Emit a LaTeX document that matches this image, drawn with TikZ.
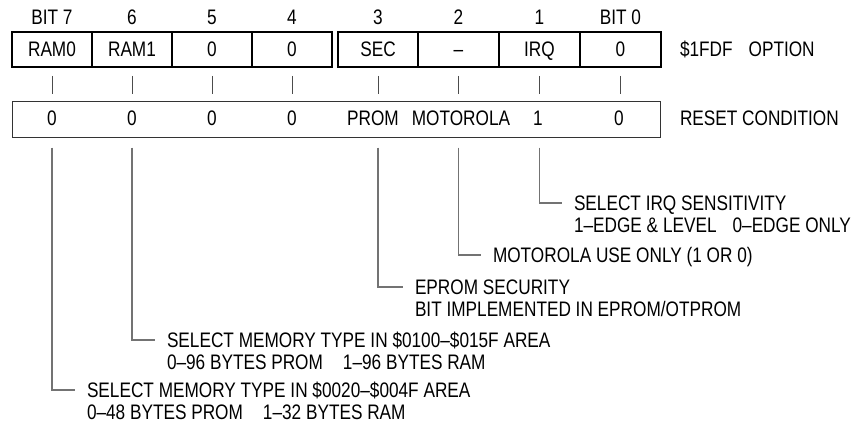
\documentclass[tikz,border=0pt]{standalone}
\usepackage{fontspec}
\setmainfont[FakeStretch=0.82]{Liberation Sans}
\usepackage{tikz}
\usetikzlibrary{positioning}

\begin{document}
\begin{tikzpicture}[
        x=1pt,
        y=-1pt,
        font=\fontsize{21pt}{24pt}\selectfont,
        cell/.style={draw, line width=2pt, minimum height=35pt, inner sep=0pt, text height=15pt, text depth=0pt},
        bitlabel/.style={inner sep=0pt, text height=15pt, text depth=0pt},
        resetbox/.style={draw=black!80, line width=1pt, inner sep=0pt},
        val/.style={inner sep=0pt, text height=15pt, text depth=0pt},
        tick/.style={draw=black!70, line width=0.9pt},
        lead/.style={draw=black!55, line width=1.2pt, shorten >=12pt},
        note/.style={anchor=west, inner sep=0pt, outer sep=0pt, text height=15pt, text depth=0pt}
    ]
        \useasboundingbox (0,0) rectangle (859,425);

        % Option register: bit numbers, cells and tick marks.
        \foreach \b/\x/\w/\t/\h in {7/52/80/RAM0/BIT 7, 6/132/80/RAM1/6, 5/212/80/0/5, 4/292/80/0/4,
                                   3/378/80/SEC/3, 2/458.5/81/–/2, 1/539.5/81/IRQ/1, 0/620.5/81/0/BIT 0} {
            \node[cell, minimum width=\w pt] (b\b) at (\x,49.5) {\t};
            \node[bitlabel] (h\b) at (\x,17.5) {\h};
            \draw[tick] ([yshift=-8pt]b\b.south) -- ([yshift=-26pt]b\b.south);
        }
        \node[note] (optlabel) at (680,49.5) {\$1FDF\hspace{16pt}OPTION};

        % Reset condition row.
        \node[resetbox, minimum width=648pt, minimum height=36pt] (reset) at (336,120) {};
        \foreach \b/\x/\t in {7/52/0, 6/132/0, 5/212/0, 4/292/0, 3/373/PROM, 2/461/MOTOROLA, 1/538/1, 0/619/0} {
            \node[val] (r\b) at (\x,118.5) {\t};
        }
        \node[note] (resetlabel) at (680,118.5) {RESET CONDITION};

        % Bit descriptions.
        \node[note] (irqa) at (574,203) {SELECT IRQ SENSITIVITY};
        \node[note] (irqb) at ([yshift=-22pt]irqa.west) {1–EDGE \& LEVEL\hspace{16pt}0–EDGE ONLY};
        \node[note] (mot) at (493,255) {MOTOROLA USE ONLY (1 OR 0)};
        \node[note] (seca) at (415,287) {EPROM SECURITY};
        \node[note] (secb) at ([yshift=-22pt]seca.west) {BIT IMPLEMENTED IN EPROM/OTPROM};
        \node[note] (ramia) at (167,340) {SELECT MEMORY TYPE IN \$0100–\$015F AREA};
        \node[note] (ramib) at ([yshift=-22pt]ramia.west) {0–96 BYTES PROM\hspace{20pt}1–96 BYTES RAM};
        \node[note] (ramoa) at (87,390) {SELECT MEMORY TYPE IN \$0020–\$004F AREA};
        \node[note] (ramob) at ([yshift=-22pt]ramoa.west) {0–48 BYTES PROM\hspace{20pt}1–32 BYTES RAM};

        \draw[lead] ([yshift=-9pt]b1 |- reset.south) |- (irqa.west);
        \draw[lead] ([yshift=-9pt]b2 |- reset.south) |- (mot.west);
        \draw[lead] ([yshift=-9pt]b3 |- reset.south) |- (seca.west);
        \draw[lead] ([yshift=-9pt]b6 |- reset.south) |- (ramia.west);
        \draw[lead] ([yshift=-9pt]b7 |- reset.south) |- (ramoa.west);
    \end{tikzpicture}
\end{document}
